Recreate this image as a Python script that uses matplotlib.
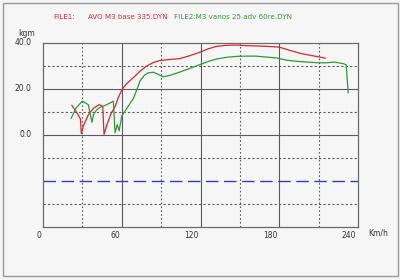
import numpy as np
import matplotlib
matplotlib.use("Agg")
import matplotlib.pyplot as plt
from matplotlib.patches import Rectangle

# FILE1 (red) - speed km/h, torque kgm
speed_red = [22, 26, 28.5, 29.2, 31, 34.5, 38.5, 43, 45.5, 46.5,
             49, 52, 55, 57.5, 60.5, 64, 69, 74, 79, 84,
             89, 96, 104, 112, 120, 126, 132, 140, 148, 156,
             164, 172, 180, 188, 196, 204, 210, 215]
torque_red = [12.9, 9.5, 7, 0.6, 4.3, 8.7, 11.7, 13.2, 12.4, 0.3,
              5, 9.5, 12.5, 16.5, 20.1, 22.5, 25, 27.8, 30, 31.5,
              32.4, 32.8, 33.2, 34.5, 36.1, 37.5, 38.5, 39, 39.1, 38.8,
              38.7, 38.5, 38.2, 36.8, 35.5, 34.6, 34, 33.4]

# FILE2 (green)
speed_green = [21.5, 25.5, 30, 34.5, 36, 37.3, 38.5, 41, 44, 47,
               51, 53.6, 54.9, 56.6, 58, 60, 64, 69, 72, 74,
               77, 80, 84, 88, 91.5, 97, 104, 112, 120, 126,
               132, 140, 148, 156, 162, 170, 178, 186, 194, 202,
               210, 216, 222, 229, 231, 232.5]
torque_green = [7.3, 12, 14.7, 13.2, 9, 5.5, 9, 11, 12.2, 12.8,
                13.9, 14.7, 1.0, 4.5, 1.8, 8.3, 11.7, 16, 20.5, 23.6,
                25.8, 27, 27.3, 26.3, 25.3, 26, 27.3, 29, 30.7, 32,
                33, 33.8, 34.2, 34.3, 34.3, 33.9, 33.5, 32.5, 32, 31.7,
                31.4, 31.4, 31.7, 31, 30.5, 18.4]

x_ticks = [0, 60, 120, 180, 240]
x_labels = ["0", "60", "120", "180", "240"]
y_ticks = [40, 20, 0]
y_labels = ["40.0", "20.0", "0.0"]
ref_line = -20

bg = "#f6f6f6"
red = "#d8262a"
green = "#2e9a35"
gridc = "#5a5a60"

fig = plt.figure(figsize=(4, 2.8), dpi=100, facecolor=bg)
ax = fig.add_axes([43 / 400, 53 / 280, 315 / 400, 184 / 280], facecolor=bg)

# page frame
fig.patches.append(Rectangle((3 / 400, 4 / 280), 395 / 400, 273 / 280,
                             transform=fig.transFigure, fill=False,
                             edgecolor="#9a9a9a", lw=1.0))

ax.set_xlim(0, 240)
ax.set_ylim(-40, 40)

# grid
for v in [20, 0]:
    ax.axhline(v, color=gridc, lw=0.8, zorder=1)
for v in [30, 10, -10, -30]:
    ax.axhline(v, color=gridc, lw=0.8, ls=(0, (2, 2)), zorder=1)
for v in [60, 120, 180]:
    ax.axvline(v, color=gridc, lw=0.8, zorder=1)
for v in [30, 90, 150, 210]:
    ax.axvline(v, color=gridc, lw=0.8, ls=(0, (1.5, 2)), zorder=1)
ax.axhline(ref_line, color="#3a3ab8", lw=1.0, ls=(0, (9, 4)), zorder=2)

ax.plot(speed_red, torque_red, color=red, lw=0.9, zorder=3)
ax.plot(speed_green, torque_green, color=green, lw=0.9, zorder=3)

for s in ax.spines.values():
    s.set_color("#6a6a6a")
    s.set_linewidth(0.9)

ax.set_xticks([])
ax.set_yticks([])
fs = 5.5
for v, lab in zip(x_ticks, x_labels):
    ax.text(v - 1.5, -43.8, lab, ha="right", va="center", fontsize=fs, color="#333")
for v, lab in zip(y_ticks, y_labels):
    ax.text(-9, v + 0.4, lab, ha="right", va="center", fontsize=fs, color="#333")
fig.text(368 / 400, 1 - 233 / 280, "Km/h", fontsize=fs, color="#333", va="center")
fig.text(27 / 400, 1 - 33 / 280, "kgm", fontsize=fs, color="#333", ha="center", va="center")

ty = 1 - 17 / 280
tfs = 5.1
fig.text(53 / 400, ty, "FILE1:", fontsize=tfs, color=red, va="center")
fig.text(88 / 400, ty, "AVO M3 base 335.DYN", fontsize=tfs, color=red, va="center")
fig.text(174 / 400, ty, "FILE2:M3 vanos 25 adv 60re.DYN", fontsize=tfs, color=green, va="center")

fig.savefig("out.png", dpi=100, facecolor=bg)
